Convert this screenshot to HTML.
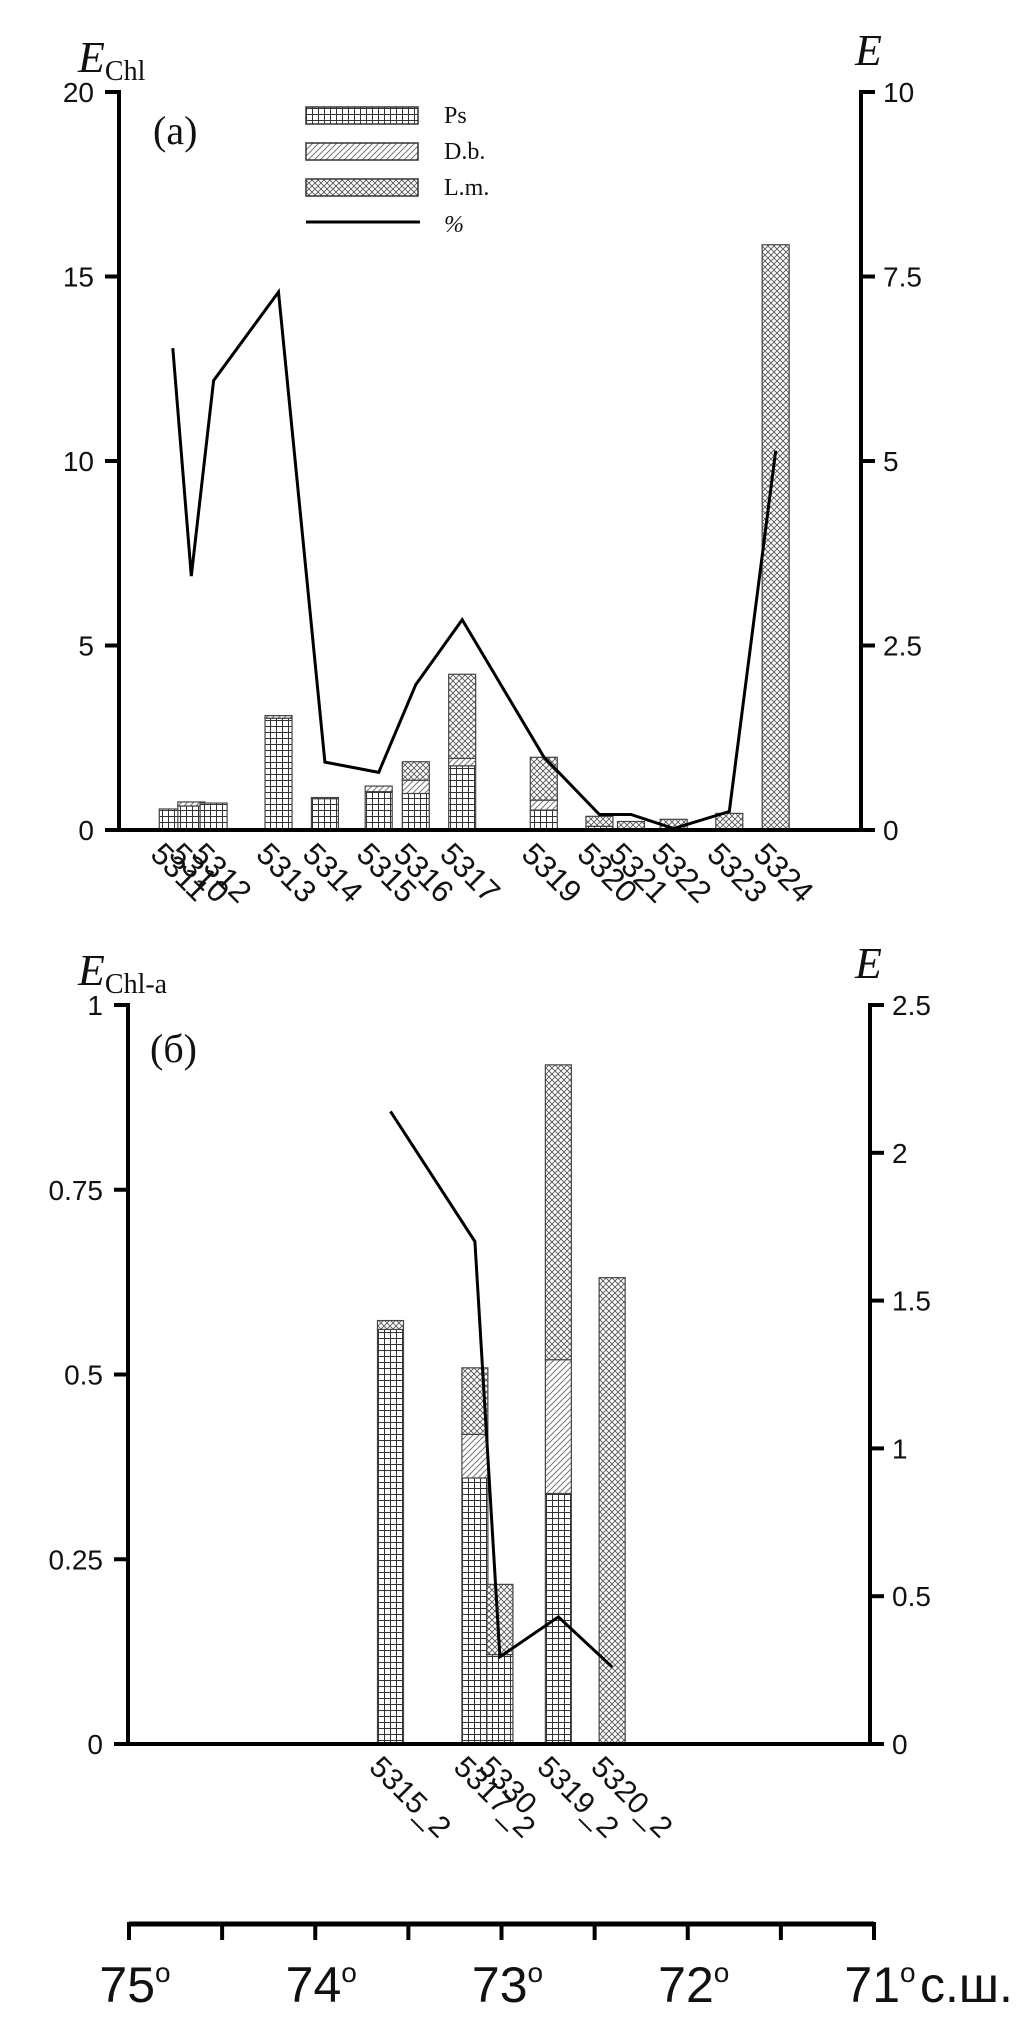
<!DOCTYPE html>
<html><head><meta charset="utf-8"><style>
html,body{margin:0;padding:0;background:#fff;}
svg{display:block;}
.tk{font-family:"Liberation Sans",sans-serif;fill:#111;}
.sv{font-family:"Liberation Serif",serif;fill:#111;}
</style></head><body>
<svg id="fig" width="1035" height="2037" viewBox="0 0 1035 2037" xmlns="http://www.w3.org/2000/svg">
<defs>
<pattern id="pPs" width="6" height="6" patternUnits="userSpaceOnUse"><rect width="6" height="6" fill="#fff"/><path d="M0 0.5H6M0.5 0V6" stroke="#333" stroke-width="1"/></pattern>
<pattern id="pDb" width="6" height="6" patternUnits="userSpaceOnUse"><rect width="6" height="6" fill="#fff"/><path d="M-1 7L7 -1M-1 1L1 -1M5 7L7 5" stroke="#777" stroke-width="1"/></pattern>
<pattern id="pLm" width="6" height="6" patternUnits="userSpaceOnUse"><rect width="6" height="6" fill="#fff"/><path d="M0 0L6 6M6 0L0 6" stroke="#555" stroke-width="0.9"/></pattern>
</defs>
<g id="chartA"></g>
<g id="chartB"></g>
<g id="latAxis"></g>
</svg>
<script>
// ---- Chart (a) data ----
const stationsA = ["5311","5310","5312","5313","5314","5315","5316","5317","5319","5320","5321","5322","5323","5324"];
const latA = [74.71,74.61,74.49,74.14,73.89,73.60,73.40,73.15,72.71,72.41,72.24,72.01,71.71,71.46];
const psA = [0.57,0.65,0.73,3.03,0.85,1.04,0.99,1.74,0.54,0.10,0.0,0.0,0.0,0.0];
const dbA = [0.0,0.11,0.0,0.07,0.03,0.15,0.36,0.20,0.27,0.0,0.0,0.0,0.0,0.0];
const lmA = [0.0,0.0,0.0,0.0,0.0,0.0,0.50,2.28,1.16,0.27,0.23,0.29,0.45,15.86];
const eA = [6.53,3.44,6.09,7.29,0.92,0.78,1.97,2.85,0.99,0.21,0.21,0.02,0.25,5.14];
const leftTicksA = [0,5,10,15,20];
const rightTicksA = ["0","2.5","5","7.5","10"];
// ---- Chart (b) data ----
const stationsB = ["5315_2","5317_2","5330","5319_2","5320_2"];
const latB = [73.585,73.13,72.995,72.68,72.39];
const psB = [0.561,0.36,0.121,0.339,0.0];
const dbB = [0.0,0.059,0.0,0.181,0.0];
const lmB = [0.012,0.09,0.095,0.399,0.631];
const eB = [2.14,1.70,0.295,0.43,0.26];
const leftTicksB = ["0","0.25","0.5","0.75","1"];
const rightTicksB = ["0","0.5","1","1.5","2","2.5"];
// ---- Latitude axis ----
const latTicks = [75,74.5,74,73.5,73,72.5,72,71.5,71];
const latLabels = [75,74,73,72,71];

const NS="http://www.w3.org/2000/svg";
function mk(tag,attrs,parent){const e=document.createElementNS(NS,tag);for(const k in attrs)e.setAttribute(k,attrs[k]);parent.appendChild(e);return e;}

function drawChart(g,cfg){
  const {x0,x1,y0,yTop,lmax,rmax,lat,ps,db,lm,e,st,lt,rt,bw,labY,fs}=cfg;
  const xs=l=>x0+(75-l)/4*(x1-x0);
  const yl=v=>y0-v/lmax*(y0-yTop);
  const yr=v=>y0-v/rmax*(y0-yTop);
  for(let i=0;i<st.length;i++){
    const cx=xs(lat[i]);
    let base=0;
    const segs=[[ps[i],"pPs","ps"],[db[i],"pDb","db"],[lm[i],"pLm","lm"]];
    for(const [v,p,n] of segs){
      if(v<=0)continue;
      const r=mk("rect",{x:cx-bw/2,y:yl(base+v),width:bw,height:yl(base)-yl(base+v),fill:"url(#"+p+")",stroke:"#444","stroke-width":1.2},g);
      
      
      base+=v;
    }
    const t=mk("text",{x:cx-8,y:labY,transform:"rotate(45 "+(cx-8)+" "+labY+")",class:"tk",style:"font-size:"+fs+"px","dominant-baseline":"hanging"},g);
    t.textContent=st[i];
    
    
  }
  let d="";
  for(let i=0;i<e.length;i++){d+=(i?"L":"M")+xs(lat[i]).toFixed(1)+" "+yr(e[i]).toFixed(1);}
  const pl=mk("path",{d:d,fill:"none",stroke:"#000","stroke-width":3},g);
  
  
  const ax=mk("path",{d:`M${x0-14} ${yTop}H${x0}V${y0}H${x1}V${yTop}H${x1+14}`,fill:"none",stroke:"#000","stroke-width":4},g);
  
  
  for(let i=0;i<lt.length;i++){
    const y=y0-i/(lt.length-1)*(y0-yTop);
    mk("path",{d:`M${x0-14} ${y}H${x0}`,stroke:"#000","stroke-width":4},g);
    const t=mk("text",{x:x0-25,y:y+10,"text-anchor":"end",class:"tk",style:"font-size:28px"},g);
    t.textContent=lt[i];
    
    
  }
  for(let i=0;i<rt.length;i++){
    const y=y0-i/(rt.length-1)*(y0-yTop);
    mk("path",{d:`M${x1} ${y}H${x1+14}`,stroke:"#000","stroke-width":4},g);
    const t=mk("text",{x:x1+22,y:y+10,class:"tk",style:"font-size:28px"},g);
    t.textContent=rt[i];
    
    
  }
}
const gA=document.getElementById('chartA');
drawChart(gA,{x0:119,x1:861,y0:830,yTop:92,lmax:20,rmax:10,lat:latA,ps:psA,db:dbA,lm:lmA,e:eA,st:stationsA,lt:leftTicksA,rt:rightTicksA,bw:27,labY:840,fs:31});
const gB=document.getElementById('chartB');
drawChart(gB,{x0:128,x1:870,y0:1744,yTop:1005,lmax:1,rmax:2.5,lat:latB,ps:psB,db:dbB,lm:lmB,e:eB,st:stationsB,lt:leftTicksB,rt:rightTicksB,bw:26,labY:1754,fs:30});

function title(g,x,y,sub,name){
  const t=mk("text",{x:x,y:y,class:"sv",style:"font-size:44px;font-style:italic"},g);
  t.textContent="E";
  
  
  if(sub){const s=mk("tspan",{style:"font-size:28px;font-style:normal",dy:8},t);s.textContent=sub;}
}
title(gA,78,72,"Chl","left-axis-title-a");
title(gA,855,65,"","right-axis-title-a");
title(gB,78,985,"Chl-a","left-axis-title-b");
title(gB,855,978,"","right-axis-title-b");
let pa=mk("text",{x:153,y:144,class:"sv",style:"font-size:40px"},gA);pa.textContent="(a)";


let pb=mk("text",{x:150,y:1062,class:"sv",style:"font-size:40px"},gB);pb.textContent="(б)";



const legNames=["Ps","D.b.","L.m."];
const legPats=["pPs","pDb","pLm"];
const lg=mk("g",{},gA);


for(let i=0;i<3;i++){
  const y=107+i*36;
  const r=mk("rect",{x:306,y:y,width:112,height:17,fill:"url(#"+legPats[i]+")",stroke:"#333","stroke-width":1.5},lg);
  
  
  const t=mk("text",{x:444,y:y+16,class:"sv",style:"font-size:24px"},lg);
  t.textContent=legNames[i];
  
  
}
mk("path",{d:"M306 222H420",stroke:"#000","stroke-width":3},lg);
let pc=mk("text",{x:444,y:232,class:"sv",style:"font-size:24px;font-style:italic"},lg);pc.textContent="%";



const la=document.getElementById('latAxis');
const lx=l=>129+(75-l)/4*(874-129);
mk("path",{d:"M129 1924H874",stroke:"#000","stroke-width":5},la);
for(const l of latTicks){mk("path",{d:`M${lx(l)} 1922V1940`,stroke:"#000","stroke-width":4},la);}
for(const l of latLabels){
  const t=mk("text",{x:lx(l)+6,y:2002,"text-anchor":"middle",class:"tk",style:"font-size:50px"},la);
  t.textContent=String(l);
  
  
  const o=mk("tspan",{style:"font-size:28px",dy:-20},t);o.textContent="o";
}
let su=mk("text",{x:920,y:2002,class:"tk",style:"font-size:50px"},la);su.textContent="с.ш.";


</script>
</body></html>
